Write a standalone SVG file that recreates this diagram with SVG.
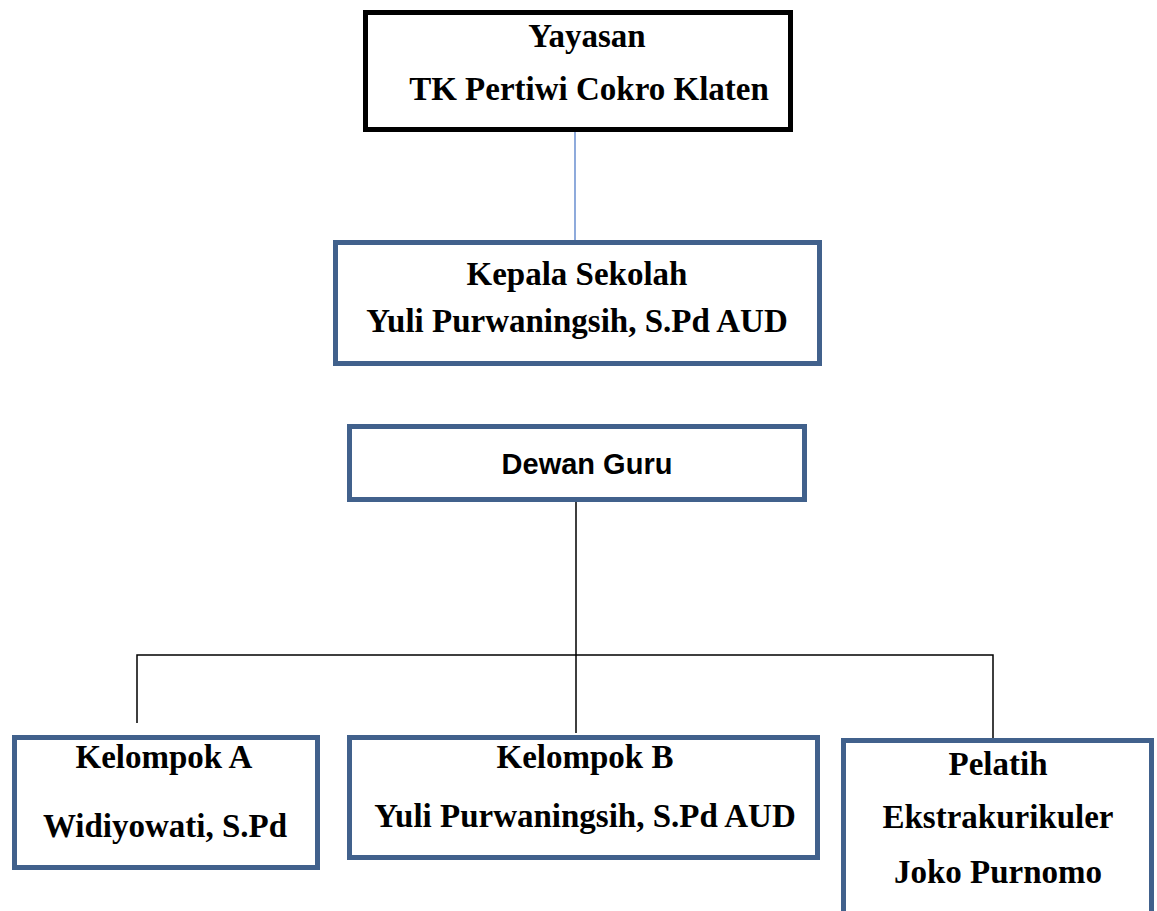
<svg xmlns="http://www.w3.org/2000/svg" width="1157" height="911" viewBox="0 0 1157 911">
<style>
.t{font-family:"Liberation Serif","Times New Roman",serif;font-weight:bold;font-size:33px;fill:#000;text-anchor:middle}
.s{font-family:"Liberation Sans",Arial,sans-serif;font-weight:bold;font-size:29px;fill:#000;text-anchor:middle}
.bb{fill:#fff;stroke:#41618c;stroke-width:5}
.kb{fill:#fff;stroke:#000;stroke-width:5}
.c{fill:none;stroke:#000;stroke-width:1.5}
</style>
<rect width="1157" height="911" fill="#fff"/>
<g id="connectors">
<line x1="575" y1="132" x2="575" y2="240" stroke="#4472c4" stroke-width="1.2"/>
<path class="c" d="M576 502V733M137 723V655H993V738"/>
</g>
<g id="yayasan">
<rect class="kb" x="365.5" y="12.5" width="425" height="117"/>
<text class="t" x="587" y="47">Yayasan</text>
<text class="t" x="589" y="100">TK Pertiwi Cokro Klaten</text>
</g>
<g id="kepala">
<rect class="bb" x="335.5" y="242.5" width="484" height="121"/>
<text class="t" x="577" y="285">Kepala Sekolah</text>
<text class="t" x="577" y="332">Yuli Purwaningsih, S.Pd AUD</text>
</g>
<g id="dewan">
<rect class="bb" x="349.5" y="426.5" width="455" height="73"/>
<text class="s" x="587" y="474">Dewan Guru</text>
</g>
<g id="kelompokA">
<rect class="bb" x="14.5" y="737.5" width="303" height="130"/>
<text class="t" x="164" y="768">Kelompok A</text>
<text class="t" x="165" y="837">Widiyowati, S.Pd</text>
</g>
<g id="kelompokB">
<rect class="bb" x="349.5" y="737.5" width="468" height="120"/>
<text class="t" x="585" y="768">Kelompok B</text>
<text class="t" x="585" y="827">Yuli Purwaningsih, S.Pd AUD</text>
</g>
<g id="pelatih">
<rect class="bb" x="843.5" y="740.5" width="308" height="200"/>
<text class="t" x="998" y="775">Pelatih</text>
<text class="t" x="998" y="828">Ekstrakurikuler</text>
<text class="t" x="998" y="883">Joko Purnomo</text>
</g>
</svg>
